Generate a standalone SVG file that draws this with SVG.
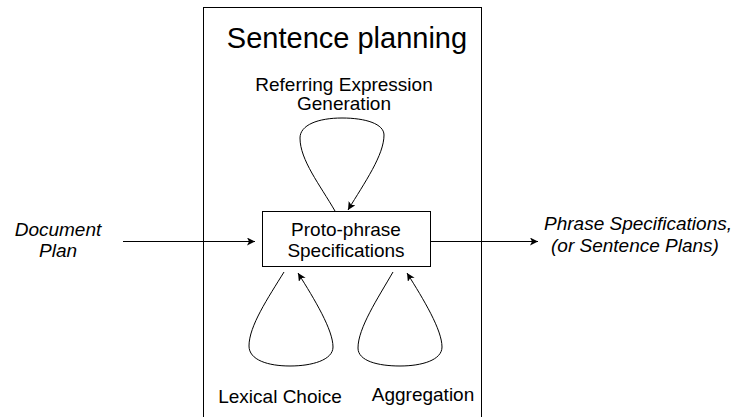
<svg xmlns="http://www.w3.org/2000/svg" width="733" height="417" viewBox="0 0 733 417">
  <style>
    text { font-family: "Liberation Sans", Arial, sans-serif; font-size: 19px; fill: #000; text-anchor: middle; }
    .title { font-size: 29px; }
    .it { font-style: italic; }
    .box { fill: #fff; stroke: #000; stroke-width: 1; }
    .edge { fill: none; stroke: #000; stroke-width: 1; marker-end: url(#arrow); }
  </style>
  <defs>
    <marker id="arrow" markerUnits="userSpaceOnUse" markerWidth="10" markerHeight="10" refX="8" refY="4" orient="auto">
      <path d="M0,0 L8,4 L0,8 L2,4 z" fill="#000"/>
    </marker>
  </defs>
  <rect width="733" height="417" fill="#fff"/>

  <!-- stage container (open at the bottom) -->
  <g id="sentence-planning">
    <rect class="box" x="203.5" y="7.5" width="278" height="430"/>
    <text class="title" x="347" y="48">Sentence planning</text>
  </g>

  <g id="connectors">
    <line class="edge" x1="123" y1="241.5" x2="255" y2="241.5"/>
    <line class="edge" x1="431" y1="241.5" x2="538" y2="241.5"/>
    <!-- referring expression generation loop -->
    <path class="edge" d="M335,211 C320,185 300,160 300,138 C300,125 318,118 342,118 C366,118 384,124 384,135 C384,155 365,182 348,210"/>
    <!-- lexical choice loop -->
    <path class="edge" d="M284,272 C268,298 249,326 249,346 C249,360 268,366 290,366 C312,366 333,360 333,347 C333,330 315,300 298,273"/>
    <!-- aggregation loop -->
    <path class="edge" d="M393,272 C378,298 358,328 358,348 C358,361 378,366 400,366 C422,366 442,360 442,347 C442,330 424,300 407,273"/>
  </g>

  <g id="proto-phrase">
    <rect class="box" x="262.5" y="211.5" width="168" height="55"/>
    <text x="346" y="236">Proto-phrase</text>
    <text x="346" y="257">Specifications</text>
  </g>

  <g id="document-plan">
    <text class="it" x="58" y="236">Document</text>
    <text class="it" x="58" y="257">Plan</text>
  </g>

  <g id="phrase-specifications">
    <text class="it" x="638" y="230">Phrase Specifications,</text>
    <text class="it" x="635" y="252">(or Sentence Plans)</text>
  </g>

  <g id="referring-expression">
    <text x="344" y="91">Referring Expression</text>
    <text x="344" y="110">Generation</text>
  </g>

  <g id="lexical-choice">
    <text x="280" y="403">Lexical Choice</text>
  </g>

  <g id="aggregation">
    <text x="423" y="401">Aggregation</text>
  </g>
</svg>
